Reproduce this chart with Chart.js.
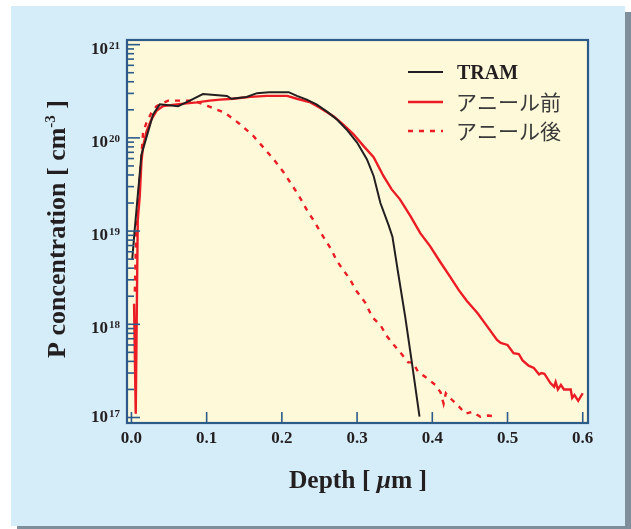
<!DOCTYPE html>
<html><head><meta charset="utf-8">
<script src="https://cdn.jsdelivr.net/npm/chart.js@4.4.1/dist/chart.umd.min.js"></script>
<style>html,body{margin:0;padding:0;background:#fff;}canvas{display:block;}</style>
</head><body>
<canvas id="c" width="631" height="529"></canvas>
<script>
// ---------- data ----------
const seriesNames = ['TRAM', 'アニール前', 'アニール後'];

const tramDepth = [0.001,0.0044,0.0133,0.0288,0.0377,0.062,0.0777,0.095,0.127,0.133,0.153,0.167,0.183,0.209,0.22,0.233,0.246,0.26,0.273,0.286,0.3,0.313,0.322,0.331,0.342,0.347,0.354,0.364,0.373,0.383];
const tramConc  = [4.9e18,1.05e19,6.6e19,1.78e20,2.29e20,2.19e20,2.51e20,2.95e20,2.82e20,2.63e20,2.75e20,3.02e20,3.09e20,3.09e20,2.82e20,2.57e20,2.29e20,1.91e20,1.58e20,1.23e20,8.9e19,5.9e19,3.9e19,2.0e19,1.15e19,8.7e18,3.8e18,1.2e18,3.8e17,1.02e17];

const preDepth = [0.0035,0.0057,0.0084,0.011,0.0133,0.0155,0.02,0.0266,0.0333,0.042,0.06,0.087,0.104,0.118,0.135,0.158,0.18,0.207,0.22,0.238,0.251,0.269,0.282,0.295,0.309,0.322,0.335,0.346,0.357,0.371,0.384,0.397,0.411,0.424,0.435,0.446,0.46,0.473,0.486,0.491,0.5,0.508,0.515,0.52,0.528,0.535,0.542,0.545,0.549,0.557,0.562,0.564,0.567,0.571,0.575,0.584,0.586,0.589,0.594,0.6];
const preConc  = [1.66e18,1.1e17,1.32e19,2.34e19,5.6e19,8.1e19,1.17e20,1.58e20,1.95e20,2.19e20,2.29e20,2.4e20,2.51e20,2.57e20,2.63e20,2.75e20,2.82e20,2.82e20,2.63e20,2.4e20,2.09e20,1.7e20,1.38e20,1.1e20,8.1e19,6.2e19,3.9e19,2.8e19,2.19e19,1.45e19,9.5e18,6.9e18,4.6e18,3.2e18,2.34e18,1.78e18,1.32e18,9.5e17,6.8e17,6.3e17,6.0e17,4.9e17,4.8e17,4.1e17,3.6e17,3.4e17,2.9e17,3.0e17,2.95e17,2.34e17,2.14e17,2.4e17,2.0e17,2.24e17,2.0e17,2.0e17,1.62e17,1.74e17,1.51e17,1.82e17];

const postDepth = [0.0045,0.0057,0.0067,0.0088,0.012,0.0155,0.02,0.0266,0.0333,0.0488,0.0644,0.082,0.102,0.124,0.144,0.162,0.176,0.189,0.202,0.213,0.224,0.233,0.244,0.255,0.266,0.273,0.291,0.298,0.311,0.32,0.331,0.34,0.349,0.36,0.368,0.374,0.381,0.39,0.404,0.411,0.415,0.418,0.426,0.435,0.444,0.453,0.464,0.474,0.486];
const postConc  = [2.24e18,5.9e18,1.05e19,2.19e19,4.6e19,1.15e20,1.45e20,1.86e20,2.19e20,2.51e20,2.51e20,2.51e20,2.19e20,1.86e20,1.41e20,1.05e20,7.8e19,5.9e19,4.3e19,3.16e19,2.29e19,1.7e19,1.23e19,8.7e18,6.3e18,4.8e18,3.0e18,2.34e18,1.7e18,1.2e18,9.8e17,7.4e17,6.0e17,4.7e17,3.9e17,3.9e17,3.1e17,2.75e17,2.24e17,1.86e17,1.41e17,1.82e17,1.55e17,1.32e17,1.1e17,1.15e17,1.02e17,1.05e17,1.02e17];

const xTickValues = [0, 0.1, 0.2, 0.3, 0.4, 0.5, 0.6];
const xTickLabels = ['0.0', '0.1', '0.2', '0.3', '0.4', '0.5', '0.6'];
const yTickExponents = [17, 18, 19, 20, 21];
const xTitleParts = ['Depth [ ', 'μ', 'm ]'];
const yTitleParts = ['P concentration [ cm', '-3', ' ]'];

// ---------- helpers ----------
const pts = (xs, ys) => xs.map((x, i) => ({x: x, y: ys[i]}));
const SERIF = '"Liberation Serif","Times New Roman",serif';
const CJK = '"Noto Sans CJK JP","Noto Sans",sans-serif';
const FRAME = '#2c5b8a';
const TEXT = '#231f20';

const decor = {
  id: 'decor',
  beforeDraw(chart) {
    const ctx = chart.ctx, a = chart.chartArea;
    ctx.save();
    ctx.fillStyle = '#ffffff'; ctx.fillRect(0, 0, 631, 529);
    ctx.fillStyle = '#7e8e9b'; ctx.fillRect(17, 12, 614, 517);
    ctx.fillStyle = '#d5ecf9'; ctx.fillRect(11, 6, 614, 520);
    ctx.fillStyle = '#fef9d9'; ctx.fillRect(a.left, a.top, a.right - a.left, a.bottom - a.top);
    ctx.restore();
  },
  afterDraw(chart) {
    const ctx = chart.ctx, a = chart.chartArea;
    const xs = chart.scales.x, ys = chart.scales.y;
    ctx.save();
    // ticks
    ctx.strokeStyle = FRAME; ctx.lineWidth = 1.6;
    yTickExponents.forEach((e, idx) => {
      const yp = ys.getPixelForValue(Math.pow(10, e));
      ctx.beginPath(); ctx.moveTo(a.left, yp); ctx.lineTo(a.left + 13, yp); ctx.stroke();
      if (idx < yTickExponents.length - 1) {
        for (let m = 2; m <= 9; m++) {
          const ym = ys.getPixelForValue(m * Math.pow(10, e));
          ctx.beginPath(); ctx.moveTo(a.left, ym); ctx.lineTo(a.left + 7, ym); ctx.stroke();
        }
      }
    });
    xTickValues.forEach(v => {
      const xp = xs.getPixelForValue(v);
      ctx.beginPath(); ctx.moveTo(xp, a.bottom); ctx.lineTo(xp, a.bottom - 11); ctx.stroke();
    });
    // frame
    ctx.lineWidth = 2.2;
    ctx.strokeRect(a.left, a.top, a.right - a.left, a.bottom - a.top);

    // y tick labels
    ctx.fillStyle = TEXT;
    yTickExponents.forEach((e, idx) => {
      const yp = ys.getPixelForValue(Math.pow(10, e));
      const off = idx === 0 ? 4.5 : 9;
      ctx.font = 'bold 17px ' + SERIF;
      ctx.textAlign = 'right'; ctx.textBaseline = 'alphabetic';
      ctx.fillText('10', 108, yp + off);
      ctx.font = 'bold 11px ' + SERIF;
      ctx.textAlign = 'left';
      ctx.fillText(String(e), 109, yp + off - 5);
    });
    // x tick labels
    ctx.font = 'bold 17px ' + SERIF;
    ctx.textAlign = 'center'; ctx.textBaseline = 'alphabetic';
    xTickValues.forEach((v, i) => {
      ctx.fillText(xTickLabels[i], xs.getPixelForValue(v), 443);
    });

    // x title
    const fN = 'bold 25.5px ' + SERIF, fI = 'italic bold 25.5px ' + SERIF;
    ctx.textAlign = 'left';
    ctx.font = fN; const w0 = ctx.measureText(xTitleParts[0]).width;
    ctx.font = fI; const w1 = ctx.measureText(xTitleParts[1]).width;
    ctx.font = fN; const w2 = ctx.measureText(xTitleParts[2]).width;
    let x0 = 358 - (w0 + w1 + w2) / 2;
    ctx.font = fN; ctx.fillText(xTitleParts[0], x0, 488);
    ctx.font = fI; ctx.fillText(xTitleParts[1], x0 + w0, 488);
    ctx.font = fN; ctx.fillText(xTitleParts[2], x0 + w0 + w1, 488);

    // y title (rotated)
    ctx.save();
    ctx.translate(65, 229);
    ctx.rotate(-Math.PI / 2);
    const fY = 'bold 26px ' + SERIF;
    const fS = 'bold 15px ' + SERIF;
    ctx.font = fY; const v0 = ctx.measureText(yTitleParts[0]).width;
    ctx.font = fS; const v1 = ctx.measureText(yTitleParts[1]).width;
    ctx.font = fY; const v2 = ctx.measureText(yTitleParts[2]).width;
    let s0 = -(v0 + v1 + v2) / 2;
    ctx.font = fY; ctx.fillText(yTitleParts[0], s0, 0);
    ctx.font = fS; ctx.fillText(yTitleParts[1], s0 + v0, -10);
    ctx.font = fY; ctx.fillText(yTitleParts[2], s0 + v0 + v1, 0);
    ctx.restore();

    // legend
    const rows = [72, 102, 131];
    chart.data.datasets.forEach((ds, i) => {
      ctx.strokeStyle = ds.borderColor;
      ctx.lineWidth = ds.borderWidth;
      ctx.setLineDash(ds.borderDash || []);
      ctx.beginPath(); ctx.moveTo(408, rows[i]); ctx.lineTo(443, rows[i]); ctx.stroke();
      ctx.setLineDash([]);
      if (i === 0) {
        ctx.font = 'bold 20px ' + SERIF; ctx.fillStyle = TEXT;
        ctx.textBaseline = 'alphabetic';
        ctx.fillText(ds.label, 457, rows[i] + 7);
      } else {
        ctx.font = '21px ' + CJK; ctx.fillStyle = '#3a3a3a';
        ctx.textBaseline = 'middle';
        ctx.fillText(ds.label, 456, rows[i]);
      }
    });
    ctx.restore();
  }
};

new Chart(document.getElementById('c'), {
  type: 'line',
  data: {
    datasets: [
      {label: seriesNames[0], data: pts(tramDepth, tramConc), borderColor: '#231f20', borderWidth: 2, pointRadius: 0, tension: 0, fill: false},
      {label: seriesNames[1], data: pts(preDepth, preConc), borderColor: '#ec1c24', borderWidth: 2.4, pointRadius: 0, tension: 0, fill: false},
      {label: seriesNames[2], data: pts(postDepth, postConc), borderColor: '#ec1c24', borderWidth: 2.4, borderDash: [5, 6], pointRadius: 0, tension: 0, fill: false}
    ]
  },
  options: {
    responsive: false,
    animation: false,
    events: [],
    layout: {padding: {left: 127, top: 40, right: 43, bottom: 106}},
    plugins: {legend: {display: false}, tooltip: {enabled: false}, title: {display: false}},
    scales: {
      x: {type: 'linear', min: -0.0059, max: 0.607, display: false},
      y: {type: 'logarithmic', min: Math.pow(10, 16.941), max: Math.pow(10, 21.05), display: false}
    }
  },
  plugins: [decor]
});
</script>
</body></html>
